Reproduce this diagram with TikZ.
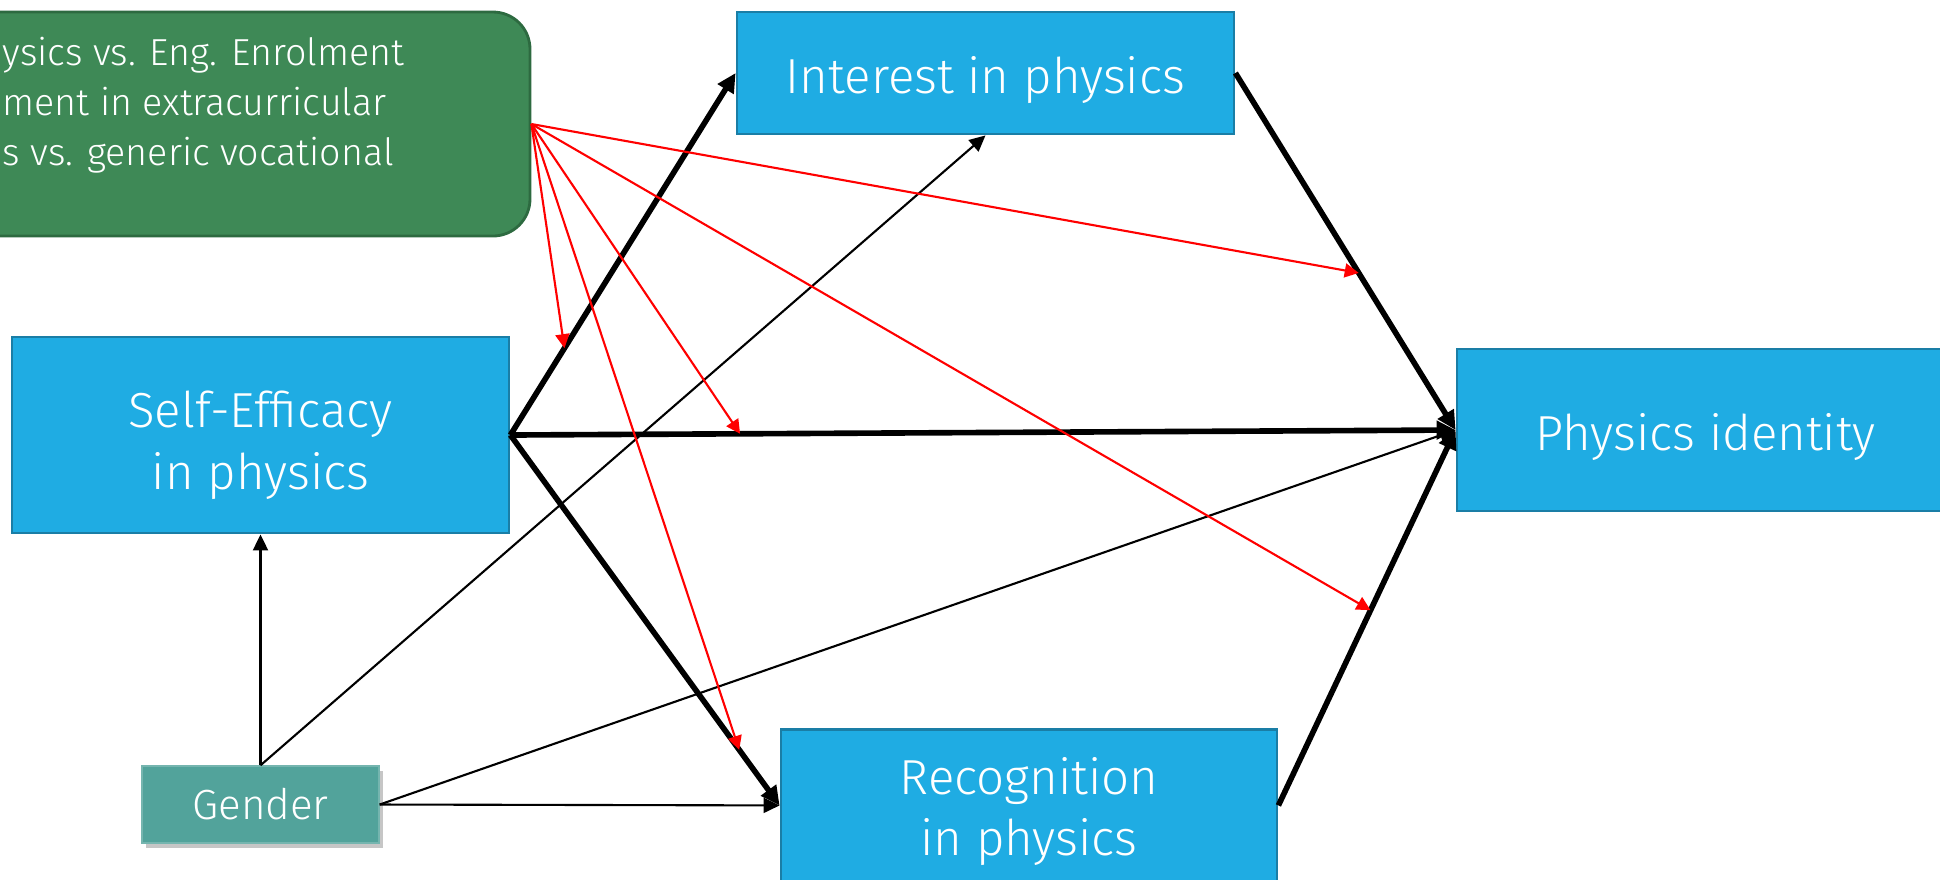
\documentclass[tikz,border=0pt]{standalone}
\usepackage{fontspec}
\setmainfont{Fira Sans Light}
\usepackage{xcolor}
\usetikzlibrary{arrows.meta,shadows}
\definecolor{boxblue}{HTML}{1FACE3}
\definecolor{boxedge}{HTML}{1A7EA6}
\definecolor{modgreen}{HTML}{3E8956}
\definecolor{modedge}{HTML}{2D6A40}
\definecolor{gendteal}{HTML}{52A39B}

\begin{document}
\begin{tikzpicture}[
  font=\fontsize{14}{17.6}\selectfont,
  construct/.style={draw=boxedge, line width=0.8pt, fill=boxblue, text=white,
                    align=center, minimum width=4.97cm, inner sep=0pt,
                    execute at begin node={\rule{0pt}{1.05em}}},
  moder/.style={draw=modedge, line width=0.8pt, fill=modgreen, rounded corners=0.37cm},
  covar/.style={draw=gendteal!80!white, line width=0.4pt, fill=gendteal, text=white,
                minimum width=2.37cm, minimum height=0.77cm, inner sep=0pt,
                drop shadow={shadow xshift=0.04cm, shadow yshift=-0.05cm, opacity=0.45}},
  mainpath/.style={-{Triangle[length=0.19cm, width=0.18cm]}, line width=1.6pt},
  sidepath/.style={-{Triangle[length=0.16cm, width=0.15cm]}, line width=0.6pt},
  modpath/.style={-{Triangle[length=0.14cm, width=0.14cm]}, line width=0.6pt, draw=red, fill=red}
]
\useasboundingbox (0,0) rectangle (19.4,-8.79);

%% ---- moderator (runs off the left edge) ------------------------------------
\node[moder, minimum width=6.3cm, minimum height=2.24cm] (moderator) at (2.15,-1.24) {};
\node[anchor=west, align=left, inner sep=0pt, text=white,
      font=\fontsize{10.7}{14.2}\selectfont] (modtext) at (0.02,-1.055)
  {ysics vs. Eng. Enrolment\\ment in extracurricular\\s vs. generic vocational};

%% ---- constructs -------------------------------------------------------------
\node[construct, minimum height=1.22cm] (interest) at (9.855,-0.73) {Interest in physics};
\node[construct, minimum height=1.96cm] (efficacy) at (2.605,-4.35)
  {\rule{0pt}{1.15em}Self-Efficacy\\in physics};
\node[construct, minimum height=1.62cm] (identity) at (17.055,-4.30) {Physics identity};
\node[construct, minimum height=1.52cm, minimum width=4.96cm] (recog) at (10.29,-8.054)
  {\rule{0pt}{1.0em}Recognition\\in physics};
\node[covar, font=\fontsize{12}{14}\selectfont] (gender) at (2.605,-8.045) {Gender};

%% ---- main paths (the red arrows land on these) ------------------------------
\draw[mainpath] (efficacy.east) -- coordinate[pos=0.24] (onEI) (interest.west);
\draw[mainpath] (efficacy.east) -- coordinate[pos=0.243] (onEP) (identity.west);
\draw[mainpath] (efficacy.east) -- coordinate[pos=0.85] (onER) (recog.west);
\draw[mainpath] (interest.east) -- coordinate[pos=0.56] (onIP) (identity.west);
\draw[mainpath] (recog.east) -- coordinate[pos=0.52] (onRP) (identity.west);

%% ---- gender paths -----------------------------------------------------------
\draw[sidepath] (gender.north) -- (efficacy.south);
\draw[sidepath] (gender.north) -- (interest.south);
\draw[sidepath] (gender.east) -- (recog.west);
\draw[sidepath] (gender.east) -- (identity.west);

%% ---- moderation -------------------------------------------------------------
\draw[modpath] (moderator.east) -- (onEI);
\draw[modpath] (moderator.east) -- (onEP);
\draw[modpath] (moderator.east) -- (onER);
\draw[modpath] (moderator.east) -- (onIP);
\draw[modpath] (moderator.east) -- (onRP);

\end{tikzpicture}
\end{document}
